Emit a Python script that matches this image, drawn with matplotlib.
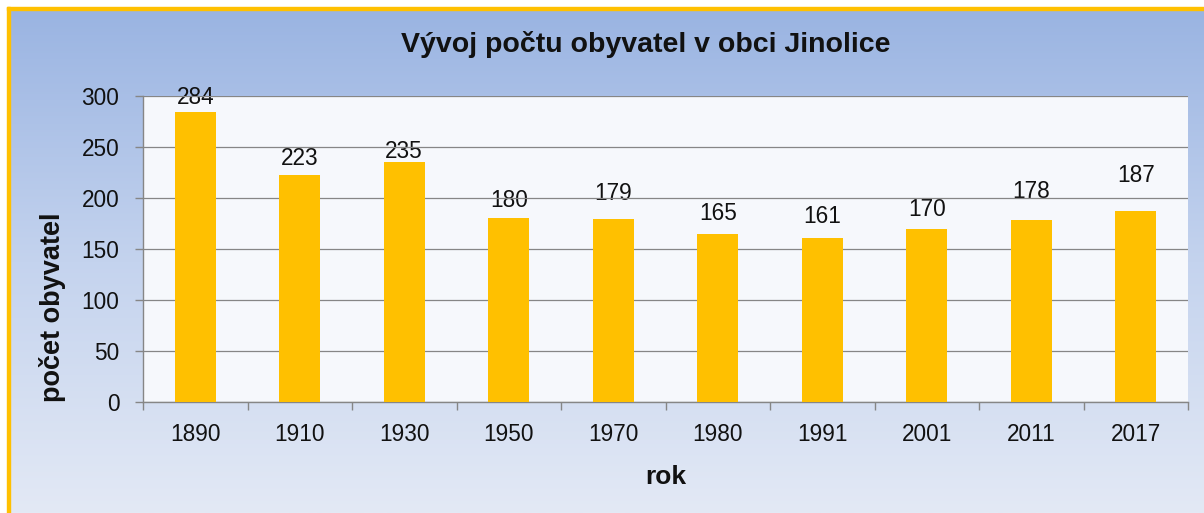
import matplotlib
matplotlib.use("Agg")
import matplotlib.pyplot as plt
import numpy as np
from matplotlib.patches import Rectangle
from matplotlib.colors import LinearSegmentedColormap

plt.rcParams["font.family"] = ["Liberation Sans", "DejaVu Sans"]

years = ["1890", "1910", "1930", "1950", "1970", "1980", "1991", "2001", "2011", "2017"]
population = [284, 223, 235, 180, 179, 165, 161, 170, 178, 187]
label_offsets = [14.7, 15.7, 10.8, 17.6, 25.5, 19.6, 20.6, 18.6, 28.4, 35.3]
yticks = [0, 50, 100, 150, 200, 250, 300]

W, H = 1204, 513
fig = plt.figure(figsize=(W / 100, H / 100), dpi=100)
fig.patch.set_facecolor("white")

def fx(px):
    return px / W

def fy(py):
    return 1 - py / H

# background gradient
bg = fig.add_axes([fx(10), 0, 1 - fx(10), fy(10)], zorder=0)
cmap = LinearSegmentedColormap.from_list("bg", ["#9AB4E2", "#C4D3EE", "#E3E9F5"])
grad = np.linspace(0, 1, 256).reshape(-1, 1)
bg.imshow(grad, aspect="auto", cmap=cmap, extent=[0, 1, 0, 1], origin="upper")
bg.axis("off")

# orange border (left and top)
fig.patches.append(Rectangle((fx(7), 0), 3 / W, fy(7), transform=fig.transFigure,
                             color="#FFC000", zorder=1))
fig.patches.append(Rectangle((fx(7), fy(10)), 1 - fx(7), 3 / H, transform=fig.transFigure,
                             color="#FFC000", zorder=1))

left, right, top, bottom = 143, 1188, 96, 402
ax = fig.add_axes([fx(left), fy(bottom), (right - left) / W, (bottom - top) / H], zorder=2)
ax.set_facecolor("#F6F8FC")

x = np.arange(len(years))
ax.bar(x, population, width=0.395, color="#FFC000", zorder=3)
for xi, v, off in zip(x, population, label_offsets):
    ax.text(xi, v + off, str(v), ha="center", va="center", fontsize=16.3,
            color="#111111", zorder=0.5)

ax.set_xlim(-0.5, len(years) - 0.5)
ax.set_ylim(0, 300)
ax.set_yticks(yticks)
ax.set_yticklabels([str(t) for t in yticks], fontsize=16.3, color="#111111")
ax.set_xticks(x)
ax.set_xticklabels(years, fontsize=16.3, color="#111111")
ax.tick_params(axis="x", length=0, pad=15)
ax.tick_params(axis="y", length=6, color="#868686", width=1.0, pad=11)
ax.set_xticks(np.arange(-0.5, len(years), 1), minor=True)
ax.tick_params(axis="x", which="minor", length=6, color="#868686", width=1.0)
ax.yaxis.grid(True, color="#868686", linewidth=0.9, zorder=1)
for s in ["top", "right"]:
    ax.spines[s].set_visible(False)
for s in ["left", "bottom"]:
    ax.spines[s].set_color("#868686")
    ax.spines[s].set_linewidth(1.0)

fig.text(fx(665.5), fy(484), "rok", ha="center", va="baseline",
         fontsize=19, fontweight="bold", color="#111111")
fig.text(fx(52), fy(307.5), "počet obyvatel", ha="center", va="center", rotation=90,
         fontsize=19.5, fontweight="bold", color="#111111")
fig.text(fx(645.5), fy(52), "Vývoj počtu obyvatel v obci Jinolice", ha="center", va="baseline",
         fontsize=20.5, fontweight="bold", color="#111111")

fig.savefig("out.png", dpi=100)
